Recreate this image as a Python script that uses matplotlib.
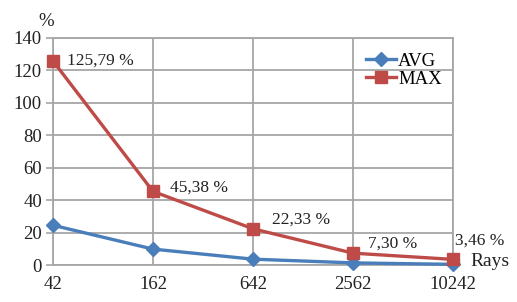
import matplotlib
matplotlib.use("Agg")
import matplotlib.pyplot as plt

categories = ["42", "162", "642", "2562", "10242"]
avg_values = [24.5, 9.8, 3.6, 1.3, 0.4]
max_values = [125.79, 45.38, 22.33, 7.30, 3.46]
max_labels = ["125,79 %", "45,38 %", "22,33 %", "7,30 %", "3,46 %"]
label_offsets = [(14, 0), (17, 4), (19, 9), (15, 10), (2, 19)]
y_ticks = [0, 20, 40, 60, 80, 100, 120, 140]

plt.rcParams['font.family'] = ['Liberation Serif', 'DejaVu Serif']

fig = plt.figure(figsize=(5.17, 3.02), dpi=100)
W, H = 517, 302
ax = fig.add_axes([53 / W, 1 - 265 / H, 400 / W, 227 / H])

x = list(range(len(categories)))
grid_c = "#A6A6A6"

ax.plot(x, avg_values, color="#4A7EBB", lw=2.4, marker="D", ms=7, label="AVG", zorder=3, clip_on=False)
ax.plot(x, max_values, color="#BE4B48", lw=2.4, marker="s", ms=8, label="MAX", zorder=4, clip_on=False)

for xi, yi, lab, off in zip(x, max_values, max_labels, label_offsets):
    ax.annotate(lab, (xi, yi), xytext=off, textcoords="offset pixels",
                ha="left", va="center", fontsize=12.5, color="#222222", zorder=5)

ax.set_xlim(0, len(categories) - 1)
ax.set_ylim(0, 140)
ax.set_xticks(x)
ax.set_xticklabels(categories)
ax.set_yticks(y_ticks)
ax.tick_params(axis="both", labelsize=13.5, colors="#222222", length=5, width=1.2, color=grid_c)
ax.tick_params(axis="x", length=0, pad=8)
ax.tick_params(axis="y", pad=3)
ax.grid(True, color=grid_c, lw=1.3)
ax.set_axisbelow(True)
for side in ["left", "bottom", "right", "top"]:
    ax.spines[side].set_color(grid_c)
    ax.spines[side].set_linewidth(1.3)

fig.text(46 / W, 1 - 21 / H, "%", fontsize=13.5, ha="center", va="center", color="#222222")
fig.text(490 / W, 1 - 262 / H, "Rays", fontsize=14, ha="center", va="center", color="#222222")

leg = ax.legend(loc="upper right", bbox_to_anchor=(1.0, 0.985), frameon=False,
                fontsize=13.5, handlelength=1.6, handletextpad=0.1, labelspacing=0.05,
                borderaxespad=0.2)

fig.savefig("out.png", dpi=100)
